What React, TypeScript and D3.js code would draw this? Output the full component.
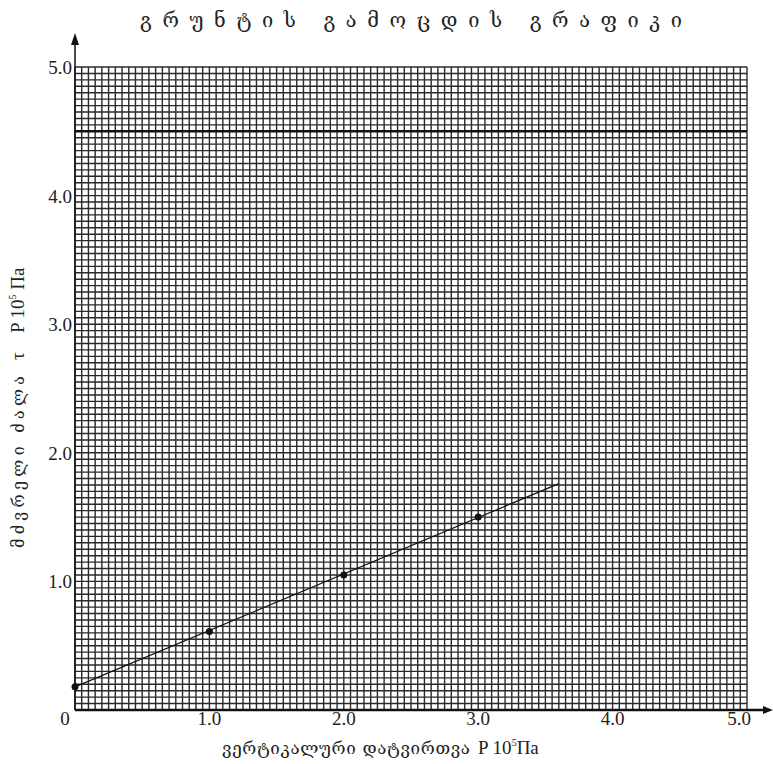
import React from "react";
import * as d3 from "d3";

const xTicks = [1.0, 2.0, 3.0, 4.0, 5.0];
const yTicks = [1.0, 2.0, 3.0, 4.0, 5.0];
const pointX = [0, 1.0, 2.0, 3.0];
const pointY = [0.18, 0.61, 1.05, 1.5];
const fitX = [0, 3.6];
const fitY = [0.18, 1.76];
const limitY = 4.5;
const gridStep = 0.05;

const W = 773;
const H = 764;
const X0 = 75, X1 = 747, Y0 = 710, Y1 = 67;

export default function App() {
  const x = d3.scaleLinear().domain([0, 5]).range([X0, X1]);
  const y = d3.scaleLinear().domain([0, 5]).range([Y0, Y1]);
  const gridVals = d3.range(0, 5 + 1e-9, gridStep);
  const line = d3.line<number>().x((_, i) => x(fitX[i])).y((_, i) => y(fitY[i]));
  const serif = "'Liberation Serif', 'DejaVu Serif', serif";
  const geo = "'DejaVu Serif', 'DejaVu Sans', serif";
  const ink = "#222";
  return (
    <svg width={W} height={H} style={{ position: "absolute", left: 0, top: 0, background: "#fff" }}>
      <rect x={0} y={0} width={W} height={H} fill="#fff" />
      <text x={140} y={27} fontFamily={geo} fontSize={20} fill={ink} textLength={542} lengthAdjust="spacing">
        გრუნტის გამოცდის გრაფიკი
      </text>
      {gridVals.map((v, i) => (
        <line key={"gx" + i} x1={x(v)} x2={x(v)} y1={Y1} y2={Y0} stroke="#2a2a2a" strokeWidth={1.4} />
      ))}
      {gridVals.map((v, i) => (
        <line key={"gy" + i} x1={X0} x2={X1} y1={y(v)} y2={y(v)} stroke="#2a2a2a" strokeWidth={1.4} />
      ))}
      <line x1={X0} x2={X1} y1={y(limitY)} y2={y(limitY)} stroke="#111" strokeWidth={2.5} />
      <line x1={X0} x2={765} y1={Y0} y2={Y0} stroke="#111" strokeWidth={2.5} />
      <path d="M773,710 L763,706 L763,714 Z" fill="#111" />
      <line x1={X0} x2={X0} y1={Y0} y2={42} stroke="#111" strokeWidth={1.5} />
      <path d="M75,33 L71,45 L79,45 Z" fill="#111" />
      <path d={line(fitX) || ""} fill="none" stroke="#111" strokeWidth={1.2} />
      {pointX.map((v, i) => (
        <circle key={"p" + i} cx={x(v)} cy={y(pointY[i])} r={3.5} fill="#111" />
      ))}
      <text x={65} y={725} fontFamily={serif} fontSize={19} fill={ink} textAnchor="middle">0</text>
      {xTicks.map((t) => (
        <text key={"xt" + t} x={t === 5 ? x(t) - 8 : x(t)} y={725} fontFamily={serif} fontSize={19} fill={ink} textAnchor="middle">
          {t.toFixed(1)}
        </text>
      ))}
      {yTicks.map((t) => (
        <text key={"yt" + t} x={72} y={y(t) + 7} fontFamily={serif} fontSize={19} fill={ink} textAnchor="end">
          {t.toFixed(1)}
        </text>
      ))}
      <text x={222} y={754} fontFamily={geo} fontSize={17} fill={ink} textLength={248} lengthAdjust="spacing">
        ვერტიკალური დატვირთვა
      </text>
      <text x={478} y={754} fontFamily={serif} fontSize={19} fill={ink}>
        P 10<tspan dy={-8} fontSize={10}>5</tspan><tspan dy={8}>Па</tspan>
      </text>
      <g transform="translate(24,0) rotate(-90)">
        <text x={-548} y={0} fontFamily={geo} fontSize={16} fill={ink} textLength={172} lengthAdjust="spacing">
          მძვრელი ძალა
        </text>
        <text x={-360} y={0} fontFamily={serif} fontSize={19} fill={ink}>τ</text>
        <text x={-333} y={0} fontFamily={serif} fontSize={19} fill={ink}>
          P 10<tspan dy={-8} fontSize={10}>5</tspan><tspan dy={8}> Па</tspan>
        </text>
      </g>
    </svg>
  );
}
